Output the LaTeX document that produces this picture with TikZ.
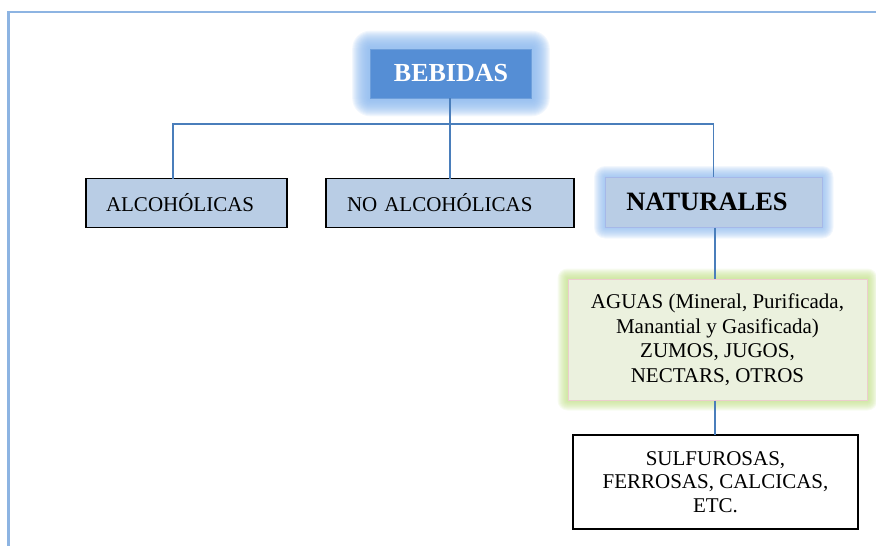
\documentclass[tikz,border=0pt]{standalone}
\usepackage{fontspec}
\setmainfont{Liberation Serif}
\usetikzlibrary{backgrounds}
\definecolor{frameblue}{RGB}{141,180,226}
\definecolor{linkblue}{RGB}{74,126,187}
\definecolor{bebfill}{RGB}{85,142,213}
\definecolor{lightfill}{RGB}{185,205,229}
\definecolor{glowblue}{RGB}{141,185,238}
\definecolor{glowgreen}{RGB}{190,222,130}
\definecolor{aguafill}{RGB}{235,241,222}
\definecolor{aguaborder}{RGB}{236,205,205}
\tikzset{
  x=1pt, y=-1pt,
  link/.style={draw=linkblue, line width=1.4pt},
  plainbox/.style={draw=black, line width=1.4pt, rectangle, inner ysep=0pt, outer sep=0pt,
     font=\fontsize{21}{24}\selectfont, align=left},
  lbox/.style={plainbox, fill=lightfill},
}
\newcommand{\glowof}[4]{% node, color, max, step
  \begin{pgfonlayer}{background}
  \foreach \d in {#4,...,#3} {
    \fill[#2, opacity=0.11, rounded corners=\d pt]
      ([shift={(-\d pt,\d pt)}]#1.north west) rectangle ([shift={(\d pt,-\d pt)}]#1.south east);
  }
  \end{pgfonlayer}}
\begin{document}
\begin{tikzpicture}
\useasboundingbox (0,0) rectangle (876,546);
% frame
\draw[frameblue, line width=2.2pt] (8.5,546) -- (8.5,12) -- (876,12);
% nodes
\node[rectangle, fill=bebfill, draw=bebfill!85!white, line width=0.6pt, minimum width=161pt, minimum height=49pt,
      text=white, font=\fontsize{26}{30}\bfseries\selectfont, inner sep=0pt] (beb) at (451,73.5) {BEBIDAS};
\node[lbox, anchor=north west, minimum height=49pt, text width=161pt, inner xsep=20pt] (alc) at (86,178.5) {ALCOHÓLICAS};
\node[lbox, anchor=north west, minimum height=49pt, text width=206pt, inner xsep=21pt] (noal) at (326,178.5) {NO ALCOHÓLICAS};
\node[rectangle, fill=lightfill, draw=lightfill!90!blue, line width=0.5pt, anchor=north west, minimum height=50pt,
      text width=175pt, inner xsep=21pt, inner ysep=0pt, align=left,
      font=\fontsize{26.5}{30}\bfseries\selectfont] (nat) at (605,177) {NATURALES};
\node[rectangle, fill=aguafill, draw=aguaborder, line width=1pt, minimum width=299pt, minimum height=121pt,
      align=center, inner sep=0pt, font=\fontsize{21}{24.5}\selectfont] (agu) at (717.5,339.5)
      {AGUAS (Mineral, Purificada,\\Manantial y Gasificada)\\ZUMOS, JUGOS,\\NECTARS, OTROS};
\node[plainbox, fill=white, minimum width=285pt, minimum height=94pt, align=center, inner xsep=0pt,
      font=\fontsize{21}{23.5}\selectfont] (sul) at (715.5,482)
      {SULFUROSAS,\\FERROSAS, CALCICAS,\\ETC.};
% glows
\glowof{beb}{glowblue}{18}{2}
\glowof{nat}{glowblue}{11}{1}
\glowof{agu}{glowgreen}{10}{1}
% connectors
\coordinate (j1) at (173,124);
\coordinate (j2) at (713.5,124);
\draw[link] (beb.south -| 450,0) -- (noal.north -| 450,0);
\draw[link] (alc.north -| j1) -- (j1) -- (j2) -- (nat.north -| j2);
\draw[link] (nat.south -| 715,0) -- (agu.north -| 715,0);
\draw[link] (agu.south -| 715,0) -- (sul.north -| 715,0);
\end{tikzpicture}
\end{document}
